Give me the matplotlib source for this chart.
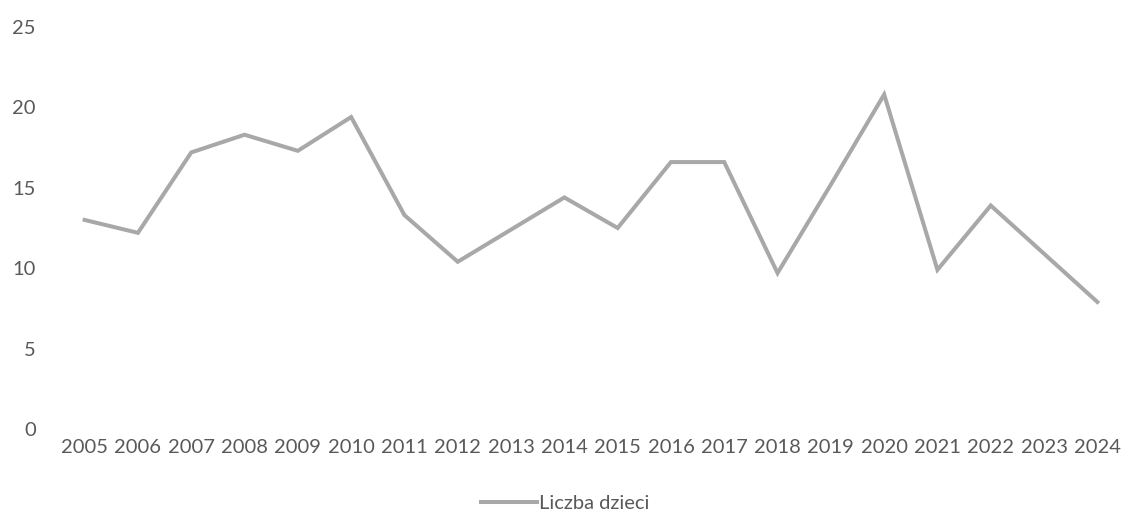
import matplotlib
matplotlib.use("Agg")
import matplotlib.pyplot as plt

years = [str(y) for y in range(2005, 2025)]
liczba_dzieci = [13.0, 12.2, 17.2, 18.3, 17.3, 19.4, 13.3, 10.4, 12.4, 14.4,
                 12.5, 16.6, 16.6, 9.7, 15.2, 20.8, 9.9, 13.9, 10.9, 7.9]
y_ticks = [0, 5, 10, 15, 20, 25]

plt.rcParams['font.family'] = ['Lato', 'DejaVu Sans']
txt = '#595959'

fig = plt.figure(figsize=(11.24, 5.13), dpi=100)
ax = fig.add_axes([58/1124, 1-429/513, 1-58/1124, (429-27)/513])

x = list(range(len(years)))
line, = ax.plot(x, liczba_dzieci, color='#a8a8a8', lw=2.9, solid_joinstyle='miter')

ax.set_xlim(-0.5, len(years)-0.5)
ax.set_ylim(0, 25)
ax.set_yticks(y_ticks)
ax.set_yticklabels([str(t) for t in y_ticks])
ax.set_xticks(x)
ax.set_xticklabels(years)
for s in ax.spines.values():
    s.set_visible(False)
ax.tick_params(axis='both', length=0, colors=txt, labelsize=14.5)
ax.tick_params(axis='y', pad=16)
ax.tick_params(axis='x', pad=7)

leg = fig.legend([line], ['Liczba dzieci'], loc='center', bbox_to_anchor=(565/1124, 1-503/513),
                 frameon=False, fontsize=14.5, handlelength=2.8, handletextpad=0.1)
for t in leg.get_texts():
    t.set_color(txt)

fig.savefig('out.png', dpi=100)
